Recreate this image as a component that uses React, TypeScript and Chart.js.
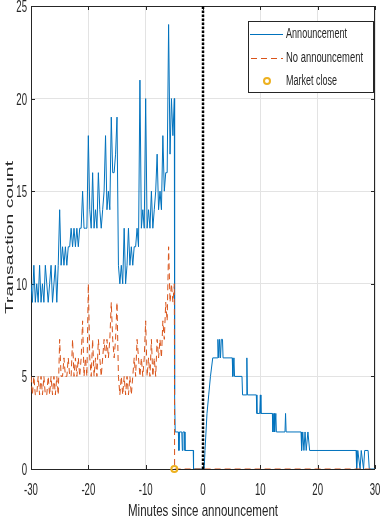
import { useEffect, useRef } from "react";
import { Chart, registerables } from "chart.js";

Chart.register(...registerables);

// Announcement days: [minutes since announcement, transaction count]
const announcementPre: [number, number][] = [
  [-30, 10], [-29.75, 9], [-29.5, 11], [-29.25, 9], [-29, 10], [-28.75, 9], [-28.5, 11], [-28.25, 9],
  [-28, 10], [-27.75, 9], [-27.5, 11], [-27.25, 10], [-27, 9], [-26.75, 10], [-26.5, 11], [-26.25, 9],
  [-26, 10], [-25.75, 11], [-25.5, 9], [-25.25, 11], [-25, 14], [-24.75, 11], [-24.5, 12], [-24.25, 11],
  [-24, 12], [-23.75, 11], [-23.5, 12], [-23.25, 12], [-23, 13], [-22.75, 12], [-22.5, 13], [-22.25, 12],
  [-22, 13], [-21.75, 12], [-21.5, 13], [-21.25, 13], [-21, 15], [-20.75, 13], [-20.5, 13], [-20.25, 13],
  [-20, 18], [-19.75, 14], [-19.5, 13], [-19.25, 16], [-19, 13], [-18.75, 14], [-18.5, 13], [-18.25, 16],
  [-18, 14], [-17.75, 13], [-17.5, 14], [-17.25, 15], [-17, 18], [-16.75, 14], [-16.5, 15], [-16.25, 14],
  [-16, 19], [-15.75, 16], [-15.5, 16], [-15.25, 17], [-15, 19], [-14.75, 11], [-14.5, 10], [-14.25, 11],
  [-14, 10], [-13.75, 13], [-13.5, 10], [-13.25, 11], [-13, 13], [-12.75, 11], [-12.5, 12], [-12.25, 11],
  [-12, 12], [-11.75, 12], [-11.5, 13], [-11.25, 12], [-11, 21], [-10.75, 13], [-10.5, 14], [-10.25, 13],
  [-10, 20], [-9.75, 13], [-9.5, 14], [-9.25, 13], [-9, 15], [-8.75, 13], [-8.5, 14], [-8.25, 15],
  [-8, 17], [-7.75, 14], [-7.5, 15], [-7.25, 14], [-7, 18], [-6.75, 15], [-6.5, 16], [-6.25, 16],
  [-6, 24], [-5.75, 17], [-5.5, 20], [-5.25, 18], [-5, 20],
];

const announcementPost: [number, number][] = [
  [-4.95, 4], [-4.85, 2], [-4.3, 2], [-4.2, 1], [-4.1, 2], [-3.7, 2], [-3.6, 1], [-3.5, 2],
  [-3.2, 2], [-3.15, 1], [-1.7, 1], [-1.65, 0], [0.2, 0], [0.35, 1], [0.7, 3], [1.0, 4],
  [1.3, 5], [1.7, 6], [2.5, 6], [2.6, 7], [2.75, 6], [2.9, 7], [3.05, 6], [3.2, 7],
  [3.4, 7], [3.5, 6], [5.1, 6], [5.2, 5], [5.4, 6], [5.5, 5], [6.8, 5], [6.9, 4],
  [7.55, 4], [7.65, 6], [7.75, 4], [9.3, 4], [9.4, 3], [9.9, 3], [10.0, 4], [10.1, 3],
  [12.1, 3], [12.2, 2], [12.4, 3], [12.5, 2], [12.7, 3], [12.8, 2], [14.3, 2], [14.4, 3],
  [14.5, 2], [17.1, 2], [17.2, 1], [17.4, 2], [17.6, 1], [17.8, 2], [18.0, 1], [18.3, 2],
  [18.6, 1], [26.7, 1], [26.8, 0], [27.0, 1], [27.4, 0], [27.6, 1], [28.0, 0], [28.2, 1],
  [28.8, 1], [29.0, 0], [30, 0],
];

// Non-announcement days
const noAnnouncement: [number, number][] = [
  [-30, 5], [-29.75, 4], [-29.5, 5], [-29.25, 4], [-29, 4], [-28.75, 5], [-28.5, 4], [-28.25, 5],
  [-28, 4], [-27.75, 5], [-27.5, 4], [-27.25, 4], [-27, 5], [-26.75, 4], [-26.5, 5], [-26.25, 4],
  [-26, 5], [-25.75, 4], [-25.5, 5], [-25.25, 4], [-25, 7], [-24.75, 5], [-24.5, 5], [-24.25, 6],
  [-24, 5], [-23.75, 5], [-23.5, 6], [-23.25, 5], [-23, 5], [-22.75, 7], [-22.5, 5], [-22.25, 6],
  [-22, 5], [-21.75, 6], [-21.5, 5], [-21.25, 6], [-21, 8], [-20.75, 5], [-20.5, 6], [-20.25, 5],
  [-20, 10], [-19.75, 6], [-19.5, 5], [-19.25, 7], [-19, 5], [-18.75, 6], [-18.5, 5], [-18.25, 7],
  [-18, 6], [-17.75, 5], [-17.5, 6], [-17.25, 7], [-17, 6], [-16.75, 7], [-16.5, 6], [-16.25, 7],
  [-16, 9], [-15.75, 7], [-15.5, 6], [-15.25, 7], [-15, 9], [-14.75, 5], [-14.5, 4], [-14.25, 5],
  [-14, 4], [-13.75, 5], [-13.5, 4], [-13.25, 5], [-13, 4], [-12.75, 5], [-12.5, 4], [-12.25, 5],
  [-12, 6], [-11.75, 5], [-11.5, 7], [-11.25, 6], [-11, 5], [-10.75, 6], [-10.5, 5], [-10.25, 6],
  [-10, 8], [-9.75, 5], [-9.5, 6], [-9.25, 5], [-9, 7], [-8.75, 5], [-8.5, 6], [-8.25, 5],
  [-8, 7], [-7.75, 6], [-7.5, 7], [-7.25, 6], [-7, 8], [-6.75, 7], [-6.5, 9], [-6.25, 8],
  [-6, 12], [-5.75, 9], [-5.5, 10], [-5.25, 9], [-5, 10], [-4.95, 0], [30, 0],
];

const marketClose: [number, number][] = [[-5, 0]];
const announcementLine: [number, number][] = [[0, 0], [0, 25]];

const xTicks = [-30, -20, -10, 0, 10, 20, 30];
const yTicks = [0, 5, 10, 15, 20, 25];

const legendLabels = ["Announcement", "No announcement", "Market close"];
const xTitle = "Minutes since announcement";
const yTitle = "Transaction count";

const BLUE = "#0072BD";
const ORANGE = "#D95319";
const YELLOW = "#EDB120";
const AXIS = "#262626";
const FONT = "'Liberation Sans', Arial, Helvetica, sans-serif";

const toXY = (arr: [number, number][]) => arr.map(([x, y]) => ({ x, y }));

// draw text with horizontal scaling (sx) along the text direction
function scaledText(
  ctx: CanvasRenderingContext2D, text: string, x: number, y: number,
  size: number, sx: number, align: "center" | "left" | "right"
) {
  ctx.save();
  ctx.font = `${size}px ${FONT}`;
  ctx.textBaseline = "middle";
  ctx.textAlign = align;
  ctx.translate(x, y);
  ctx.scale(sx, 1);
  ctx.fillText(text, 0, 0);
  ctx.restore();
}

function fitWidth(ctx: CanvasRenderingContext2D, text: string, size: number, width: number) {
  ctx.save();
  ctx.font = `${size}px ${FONT}`;
  const w = ctx.measureText(text).width;
  ctx.restore();
  return width / w;
}

const decor = {
  id: "decor",
  beforeDatasetsDraw(chart: any) {
    const { ctx, chartArea: a, scales } = chart;
    const x = scales.x, y = scales.y;
    ctx.save();
    ctx.strokeStyle = AXIS;
    ctx.lineWidth = 1;
    ctx.strokeRect(a.left + 0.5, a.top + 0.5, a.right - a.left - 1, a.bottom - a.top);
    ctx.beginPath();
    for (const t of xTicks) {
      const px = Math.round(x.getPixelForValue(t)) + 0.5;
      ctx.moveTo(px, a.top); ctx.lineTo(px, a.top + 4);
      ctx.moveTo(px, a.bottom); ctx.lineTo(px, a.bottom - 4);
    }
    for (const t of yTicks) {
      const py = Math.round(y.getPixelForValue(t)) + 0.5;
      ctx.moveTo(a.left, py); ctx.lineTo(a.left + 4, py);
      ctx.moveTo(a.right, py); ctx.lineTo(a.right - 4, py);
    }
    ctx.stroke();
    ctx.restore();
  },
  afterDraw(chart: any) {
    const { ctx, chartArea: a, scales } = chart;
    const x = scales.x, y = scales.y;
    ctx.save();
    ctx.fillStyle = AXIS;
    // tick labels
    for (const t of xTicks) {
      scaledText(ctx, String(t), x.getPixelForValue(t), 491, 16, 0.6, "center");
    }
    for (const t of yTicks) {
      scaledText(ctx, String(t), 27, y.getPixelForValue(t) + 1.5, 16, 0.6, "right");
    }
    // axis titles
    const sX = fitWidth(ctx, xTitle, 17, 150);
    scaledText(ctx, xTitle, (a.left + a.right) / 2, 511, 17, sX, "center");
    ctx.save();
    ctx.translate(10, (a.top + a.bottom) / 2);
    ctx.rotate(-Math.PI / 2);
    ctx.scale(1, 0.65);
    const sY = fitWidth(ctx, yTitle, 18, 153);
    scaledText(ctx, yTitle, 0, 0, 18, sY, "center");
    ctx.restore();
    // legend
    const lx = 248, ly = 21, lw = 126, lh = 72;
    ctx.fillStyle = "#ffffff";
    ctx.fillRect(lx, ly, lw, lh);
    ctx.strokeStyle = AXIS;
    ctx.lineWidth = 1;
    ctx.strokeRect(lx + 0.5, ly + 0.5, lw - 1, lh - 1);
    const rows = [34, 58, 81];
    ctx.strokeStyle = BLUE;
    ctx.beginPath(); ctx.moveTo(250, rows[0] + 0.5); ctx.lineTo(283, rows[0] + 0.5); ctx.stroke();
    ctx.strokeStyle = ORANGE;
    ctx.setLineDash([6, 4]);
    ctx.beginPath(); ctx.moveTo(251, rows[1] + 0.5); ctx.lineTo(283, rows[1] + 0.5); ctx.stroke();
    ctx.setLineDash([]);
    ctx.strokeStyle = YELLOW;
    ctx.lineWidth = 2;
    ctx.beginPath(); ctx.arc(267, rows[2], 3, 0, Math.PI * 2); ctx.stroke();
    ctx.fillStyle = AXIS;
    const widths = [61, 77, 51];
    legendLabels.forEach((t, i) => {
      const s = fitWidth(ctx, t, 14, widths[i]);
      scaledText(ctx, t, 286, rows[i] + 0.5, 14, s, "left");
    });
    ctx.restore();
  },
};

export default function App() {
  const ref = useRef<HTMLCanvasElement | null>(null);
  useEffect(() => {
    if (!ref.current) return;
    const chart = new Chart(ref.current, {
      type: "line",
      data: {
        datasets: [
          {
            label: legendLabels[0],
            data: toXY([...announcementPre, ...announcementPost]),
            borderColor: BLUE,
            borderWidth: 1,
            pointRadius: 0,
            order: 3,
          },
          {
            label: legendLabels[1],
            data: toXY(noAnnouncement),
            borderColor: ORANGE,
            borderWidth: 1,
            borderDash: [6, 4],
            pointRadius: 0,
            order: 2,
          },
          {
            label: "announcement",
            data: toXY(announcementLine),
            borderColor: "#000000",
            borderWidth: 2.5,
            borderDash: [2.5, 1.5],
            pointRadius: 0,
            order: 0,
          },
          {
            label: legendLabels[2],
            data: toXY(marketClose),
            showLine: false,
            pointRadius: 3,
            pointBorderWidth: 2,
            pointBorderColor: YELLOW,
            pointBackgroundColor: "rgba(0,0,0,0)",
            clip: false as any,
            order: 1,
          },
        ],
      },
      options: {
        responsive: false,
        animation: false,
        events: [],
        layout: { padding: { top: 5, right: 5, left: 0, bottom: 0 } },
        plugins: { legend: { display: false }, tooltip: { enabled: false }, title: { display: false } },
        scales: {
          x: {
            type: "linear",
            min: -30,
            max: 30,
            afterFit: (s: any) => { s.height = 54; s.paddingLeft = 0; s.paddingRight = 0; },
            afterBuildTicks: (s: any) => { s.ticks = xTicks.map((v) => ({ value: v })); },
            ticks: { display: false },
            grid: { color: "#e3e3e3", lineWidth: 1, drawTicks: false },
            border: { display: false },
          },
          y: {
            type: "linear",
            min: 0,
            max: 25,
            afterFit: (s: any) => { s.width = 31; s.paddingTop = 0; s.paddingBottom = 0; },
            afterBuildTicks: (s: any) => { s.ticks = yTicks.map((v) => ({ value: v })); },
            ticks: { display: false },
            grid: { color: "#e3e3e3", lineWidth: 1, drawTicks: false },
            border: { display: false },
          },
        },
      },
      plugins: [decor],
    });
    return () => chart.destroy();
  }, []);
  return (
    <div style={{ position: "fixed", left: 0, top: 0, width: 381, height: 523, background: "#fff" }}>
      <canvas ref={ref} width={381} height={523} style={{ width: 381, height: 523, display: "block" }} />
    </div>
  );
}
